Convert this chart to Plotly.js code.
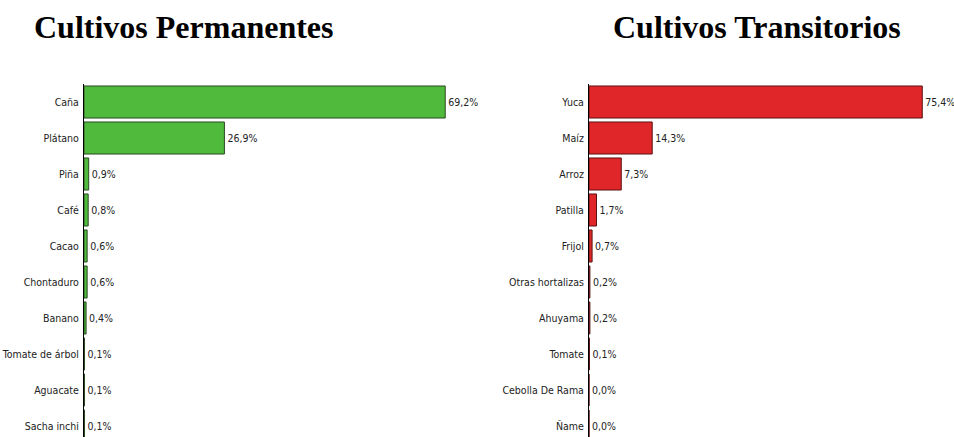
<!DOCTYPE html>
<html><head><meta charset="utf-8">
<script src="https://cdn.plot.ly/plotly-3.0.1.min.js"></script>
<style>html,body{margin:0;padding:0;background:#fff}</style>
</head><body><div id="chart" style="width:954px;height:437px"></div>
<script>
const permCategories = ["Caña","Plátano","Piña","Café","Cacao","Chontaduro","Banano","Tomate de árbol","Aguacate","Sacha inchi"];
const permValues = [69.2, 26.9, 0.9, 0.8, 0.6, 0.6, 0.4, 0.1, 0.1, 0.1];
const tranCategories = ["Yuca","Maíz","Arroz","Patilla","Frijol","Otras hortalizas","Ahuyama","Tomate","Cebolla De Rama","Ñame"];
const tranValues = [75.4, 14.3, 7.3, 1.7, 0.7, 0.2, 0.2, 0.1, 0.0, 0.0];
const titles = ["Cultivos Permanentes","Cultivos Transitorios"];

const fmt = v => v.toFixed(1).replace('.', ',') + '%';
const labelFont = {family: "DejaVu Sans Condensed, Liberation Sans Narrow, Liberation Sans, sans-serif", size: 10.5, color: "#222"};

const traces = [
  {type:'bar', orientation:'h', y: permCategories, x: permValues, text: permValues.map(fmt),
   textposition:'outside', cliponaxis:false, textfont: labelFont, width:0.89,
   marker:{color:'#4fba3c', line:{color:'#2b4a22', width:1}}, xaxis:'x', yaxis:'y', hoverinfo:'none'},
  {type:'bar', orientation:'h', y: tranCategories, x: tranValues, text: tranValues.map(fmt),
   textposition:'outside', cliponaxis:false, textfont: labelFont, width:0.89,
   marker:{color:'#e02628', line:{color:'#5a1414', width:1}}, xaxis:'x2', yaxis:'y2', hoverinfo:'none'}
];

const yCommon = {type:'category', range:[9.306,-0.5], showline:true, linecolor:'#000', linewidth:1,
  ticks:'', showgrid:false, zeroline:false, tickfont: labelFont, ticklabelstandoff:2, fixedrange:true};
const xCommon = {showline:false, showgrid:false, zeroline:false, showticklabels:false, ticks:'', fixedrange:true};

const titleFont = {family:'Liberation Serif, Times New Roman, serif', size:32, color:'#000'};
const layout = {
  width:954, height:437, margin:{l:0,r:0,t:84,b:0}, showlegend:false,
  paper_bgcolor:'#fff', plot_bgcolor:'#fff', bargap:0.11,
  xaxis: Object.assign({}, xCommon, {domain:[84/954, 480/954], range:[0, 396/5.22]}),
  yaxis: Object.assign({}, yCommon, {anchor:'x', categoryarray: permCategories, categoryorder:'array'}),
  xaxis2: Object.assign({}, xCommon, {domain:[589/954, 948/954], range:[0, 359/4.42]}),
  yaxis2: Object.assign({}, yCommon, {anchor:'x2', categoryarray: tranCategories, categoryorder:'array'}),
  annotations: [
    {text:'<b>'+titles[0]+'</b>', xref:'paper', yref:'paper', x:184/954, y:1, yshift:84-27, xanchor:'center', yanchor:'middle', showarrow:false, font:titleFont},
    {text:'<b>'+titles[1]+'</b>', xref:'paper', yref:'paper', x:757/954, y:1, yshift:84-27, xanchor:'center', yanchor:'middle', showarrow:false, font:titleFont}
  ]
};
Plotly.newPlot('chart', traces, layout, {displayModeBar:false, staticPlot:true});
</script></body></html>
